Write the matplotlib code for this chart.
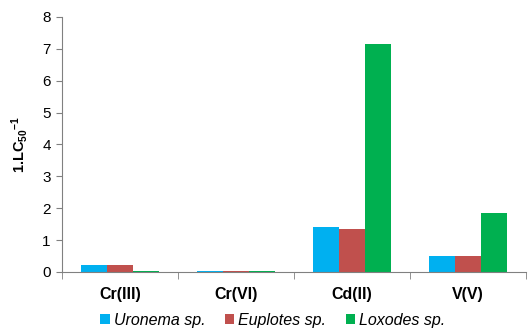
import matplotlib.pyplot as plt
import numpy as np

plt.rcParams['font.family'] = ['Liberation Sans', 'DejaVu Sans']
plt.rcParams['mathtext.fontset'] = 'custom'
plt.rcParams['mathtext.rm'] = 'Liberation Sans:bold'
plt.rcParams['mathtext.default'] = 'rm'

metals = ['Cr(III)', 'Cr(VI)', 'Cd(II)', 'V(V)']
species = ['Uronema sp.', 'Euplotes sp.', 'Loxodes sp.']
uronema = [0.22, 0.02, 1.40, 0.51]
euplotes = [0.22, 0.02, 1.36, 0.51]
loxodes = [0.02, 0.02, 7.15, 1.85]
colors = ['#00B0F0', '#C0504D', '#00B050']

fig = plt.figure(figsize=(5.28, 3.32), dpi=100)
ax = fig.add_axes([0.117, 0.181, 0.879, 0.768])

x = np.arange(len(metals))
w = 0.224
for i, (vals, name) in enumerate(zip([uronema, euplotes, loxodes], species)):
    ax.bar(x + (i - 1) * w, vals, w, color=colors[i], label=name)

ax.set_xlim(-0.5, 3.5)
ax.set_ylim(0, 8)
ax.set_yticks(range(0, 9))
ax.tick_params(axis='y', labelsize=11, length=4, color='#808080', pad=4)

# category labels centered, ticks on the group boundaries
ax.set_xticks(x)
ax.set_xticklabels(metals, fontsize=11.5, fontweight='bold')
ax.tick_params(axis='x', length=0, pad=11)
ax.set_xticks(np.arange(-0.5, 4.0, 1.0), minor=True)
ax.tick_params(axis='x', which='minor', length=5, color='#808080')

for s in ['top', 'right']:
    ax.spines[s].set_visible(False)
for s in ['left', 'bottom']:
    ax.spines[s].set_color('#808080')

ax.set_ylabel('1.LC$_{50}$$^{\u22121}$', fontsize=10.5, fontweight='bold',
              labelpad=9)

leg = ax.legend(loc='center', bbox_to_anchor=(0.455, -0.19), ncol=3,
                frameon=False, prop={'style': 'italic', 'size': 11.5},
                handlelength=0.6, handleheight=0.6, handletextpad=0.25,
                columnspacing=1.2)

fig.savefig('out.png', dpi=100)
